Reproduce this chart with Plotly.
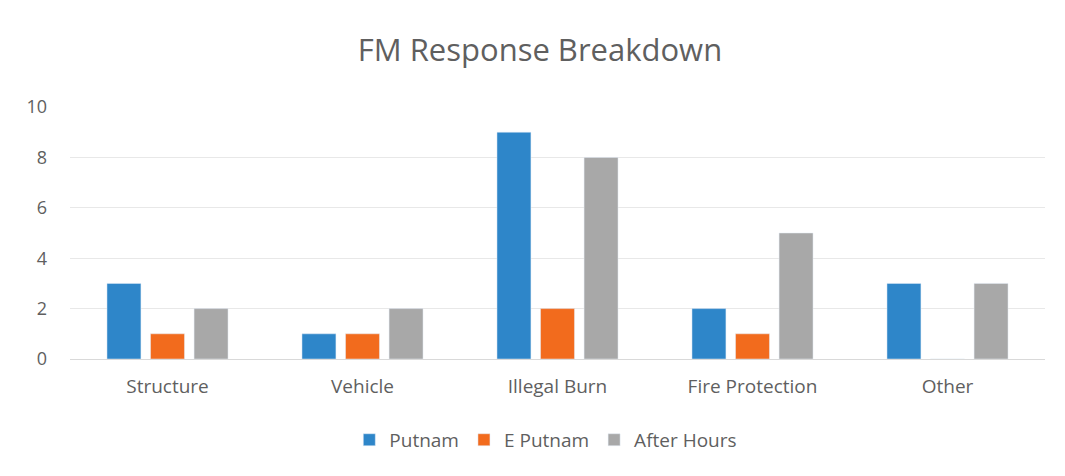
import plotly.graph_objects as go

categories = ["Structure", "Vehicle", "Illegal Burn", "Fire Protection", "Other"]
putnam = [3, 1, 9, 2, 3]
e_putnam = [1, 1, 2, 1, 0]
after_hours = [2, 2, 8, 5, 3]

fig = go.Figure()
fig.add_bar(name="Putnam", x=categories, y=putnam, marker_color="#2E86C9")
fig.add_bar(name="E Putnam", x=categories, y=e_putnam, marker_color="#F26B1D")
fig.add_bar(name="After Hours", x=categories, y=after_hours, marker_color="#A8A8A8")

fig.update_layout(
    width=1065, height=476,
    paper_bgcolor="white", plot_bgcolor="white",
    font=dict(family="Open Sans, Liberation Sans, sans-serif", color="#5f5f5f", size=17),
    title=dict(text="FM Response Breakdown", x=0.4995, xanchor="center", y=0.912, yanchor="middle",
               font=dict(size=31, color="#5f5f5f")),
    barmode="group", bargap=0.33, bargroupgap=0.22,
    margin=dict(l=62, r=28, t=99, b=125),
    legend=dict(orientation="h", x=0.488, xanchor="center", y=-0.321, yanchor="middle",
                font=dict(size=19, color="#5f5f5f"), itemwidth=30, traceorder="normal"),
    xaxis=dict(showgrid=False, showline=True, linecolor="#d9d9d9", ticks="",
               ticklabelstandoff=10, tickfont=dict(size=19, color="#5f5f5f")),
    yaxis=dict(range=[0, 10], dtick=2, showgrid=True, gridcolor="#e8e8e8", zeroline=False,
               ticklabelstandoff=22, tickfont=dict(size=18, color="#5f5f5f")),
)

fig.write_html("out.html")
